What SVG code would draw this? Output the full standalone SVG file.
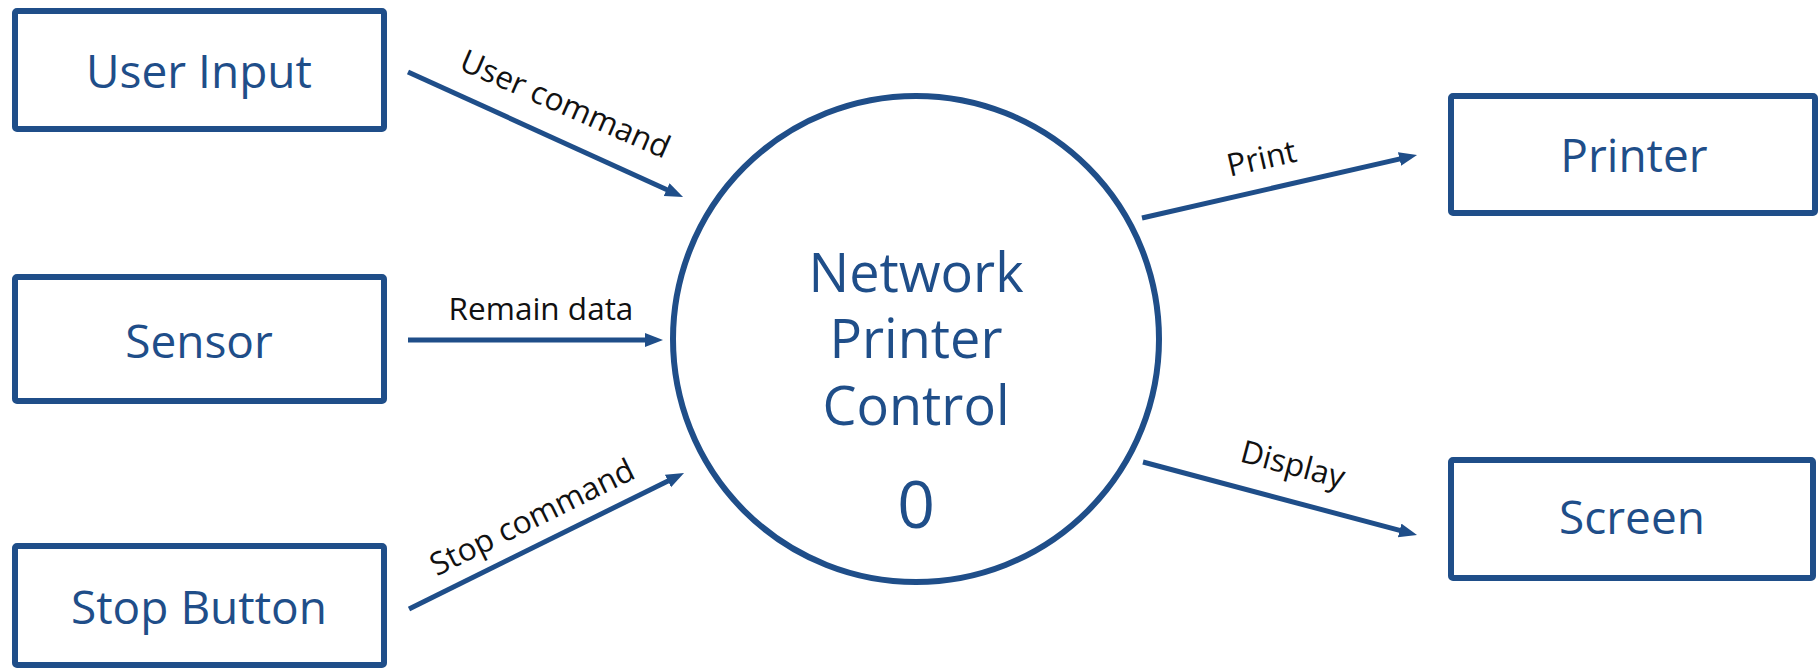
<svg xmlns="http://www.w3.org/2000/svg" width="1818" height="670" viewBox="0 0 1818 670">
  <defs>
    <style>
      .box { fill: #ffffff; stroke: #1F4E89; stroke-width: 6; }
      .proc { fill: #ffffff; stroke: #1F4E89; stroke-width: 6; }
      .ntext { font-family: "Open Sans", "Noto Sans", sans-serif; font-size: 46px; fill: #1F4E89; text-anchor: middle; }
      .ptext { font-family: "Open Sans", "Noto Sans", sans-serif; font-size: 54px; fill: #1F4E89; text-anchor: middle; }
      .flow { stroke: #1F4E89; stroke-width: 5; fill: none; marker-end: url(#arrow); }
      .label { font-family: "Open Sans", "Noto Sans", sans-serif; font-size: 31.5px; fill: #111111; text-anchor: middle; }
    </style>
    <marker id="arrow" markerUnits="userSpaceOnUse" markerWidth="20" markerHeight="16" refX="4" refY="7" orient="auto">
      <path d="M0,0 L18,7 L0,14 z" fill="#1F4E89"/>
    </marker>
  </defs>
  <rect width="1818" height="670" fill="#ffffff"/>

  <g id="user-input">
    <rect class="box" x="15" y="11" width="369" height="118" rx="2"/>
    <text class="ntext" x="199" y="88">User Input</text>
  </g>
  <g id="sensor">
    <rect class="box" x="15" y="277" width="369" height="124" rx="2"/>
    <text class="ntext" x="199" y="358">Sensor</text>
  </g>
  <g id="stop-button">
    <rect class="box" x="15" y="546" width="369" height="119" rx="2"/>
    <text class="ntext" x="199" y="624">Stop Button</text>
  </g>
  <g id="printer">
    <rect class="box" x="1451" y="96" width="364" height="117" rx="2"/>
    <text class="ntext" x="1634" y="172">Printer</text>
  </g>
  <g id="screen">
    <rect class="box" x="1451" y="460" width="362" height="118" rx="2"/>
    <text class="ntext" x="1632" y="534">Screen</text>
  </g>
  <g id="network-printer-control">
    <circle class="proc" cx="916" cy="339" r="243"/>
    <text class="ptext" x="916" y="292">Network</text>
    <text class="ptext" x="916" y="358">Printer</text>
    <text class="ptext" x="916" y="425">Control</text>
    <text class="ptext" x="916" y="528" style="font-size:66px">0</text>
  </g>

  <g id="connectors">
    <line class="flow" x1="408" y1="72" x2="670.3" y2="191.2"/>
    <line class="flow" x1="408" y1="340" x2="649" y2="340"/>
    <line class="flow" x1="409" y1="609" x2="671.5" y2="479.2"/>
    <line class="flow" x1="1142" y1="218" x2="1403.4" y2="158.1"/>
    <line class="flow" x1="1143" y1="462" x2="1403.5" y2="531.4"/>
    <text class="label" transform="translate(561,114) rotate(23.5)">User command</text>
    <text class="label" x="541" y="320">Remain data</text>
    <text class="label" transform="translate(537,527) rotate(-26.3)">Stop command</text>
    <text class="label" transform="translate(1264,169) rotate(-12.9)">Print</text>
    <text class="label" transform="translate(1290,475) rotate(14.9)">Display</text>
  </g>
</svg>
